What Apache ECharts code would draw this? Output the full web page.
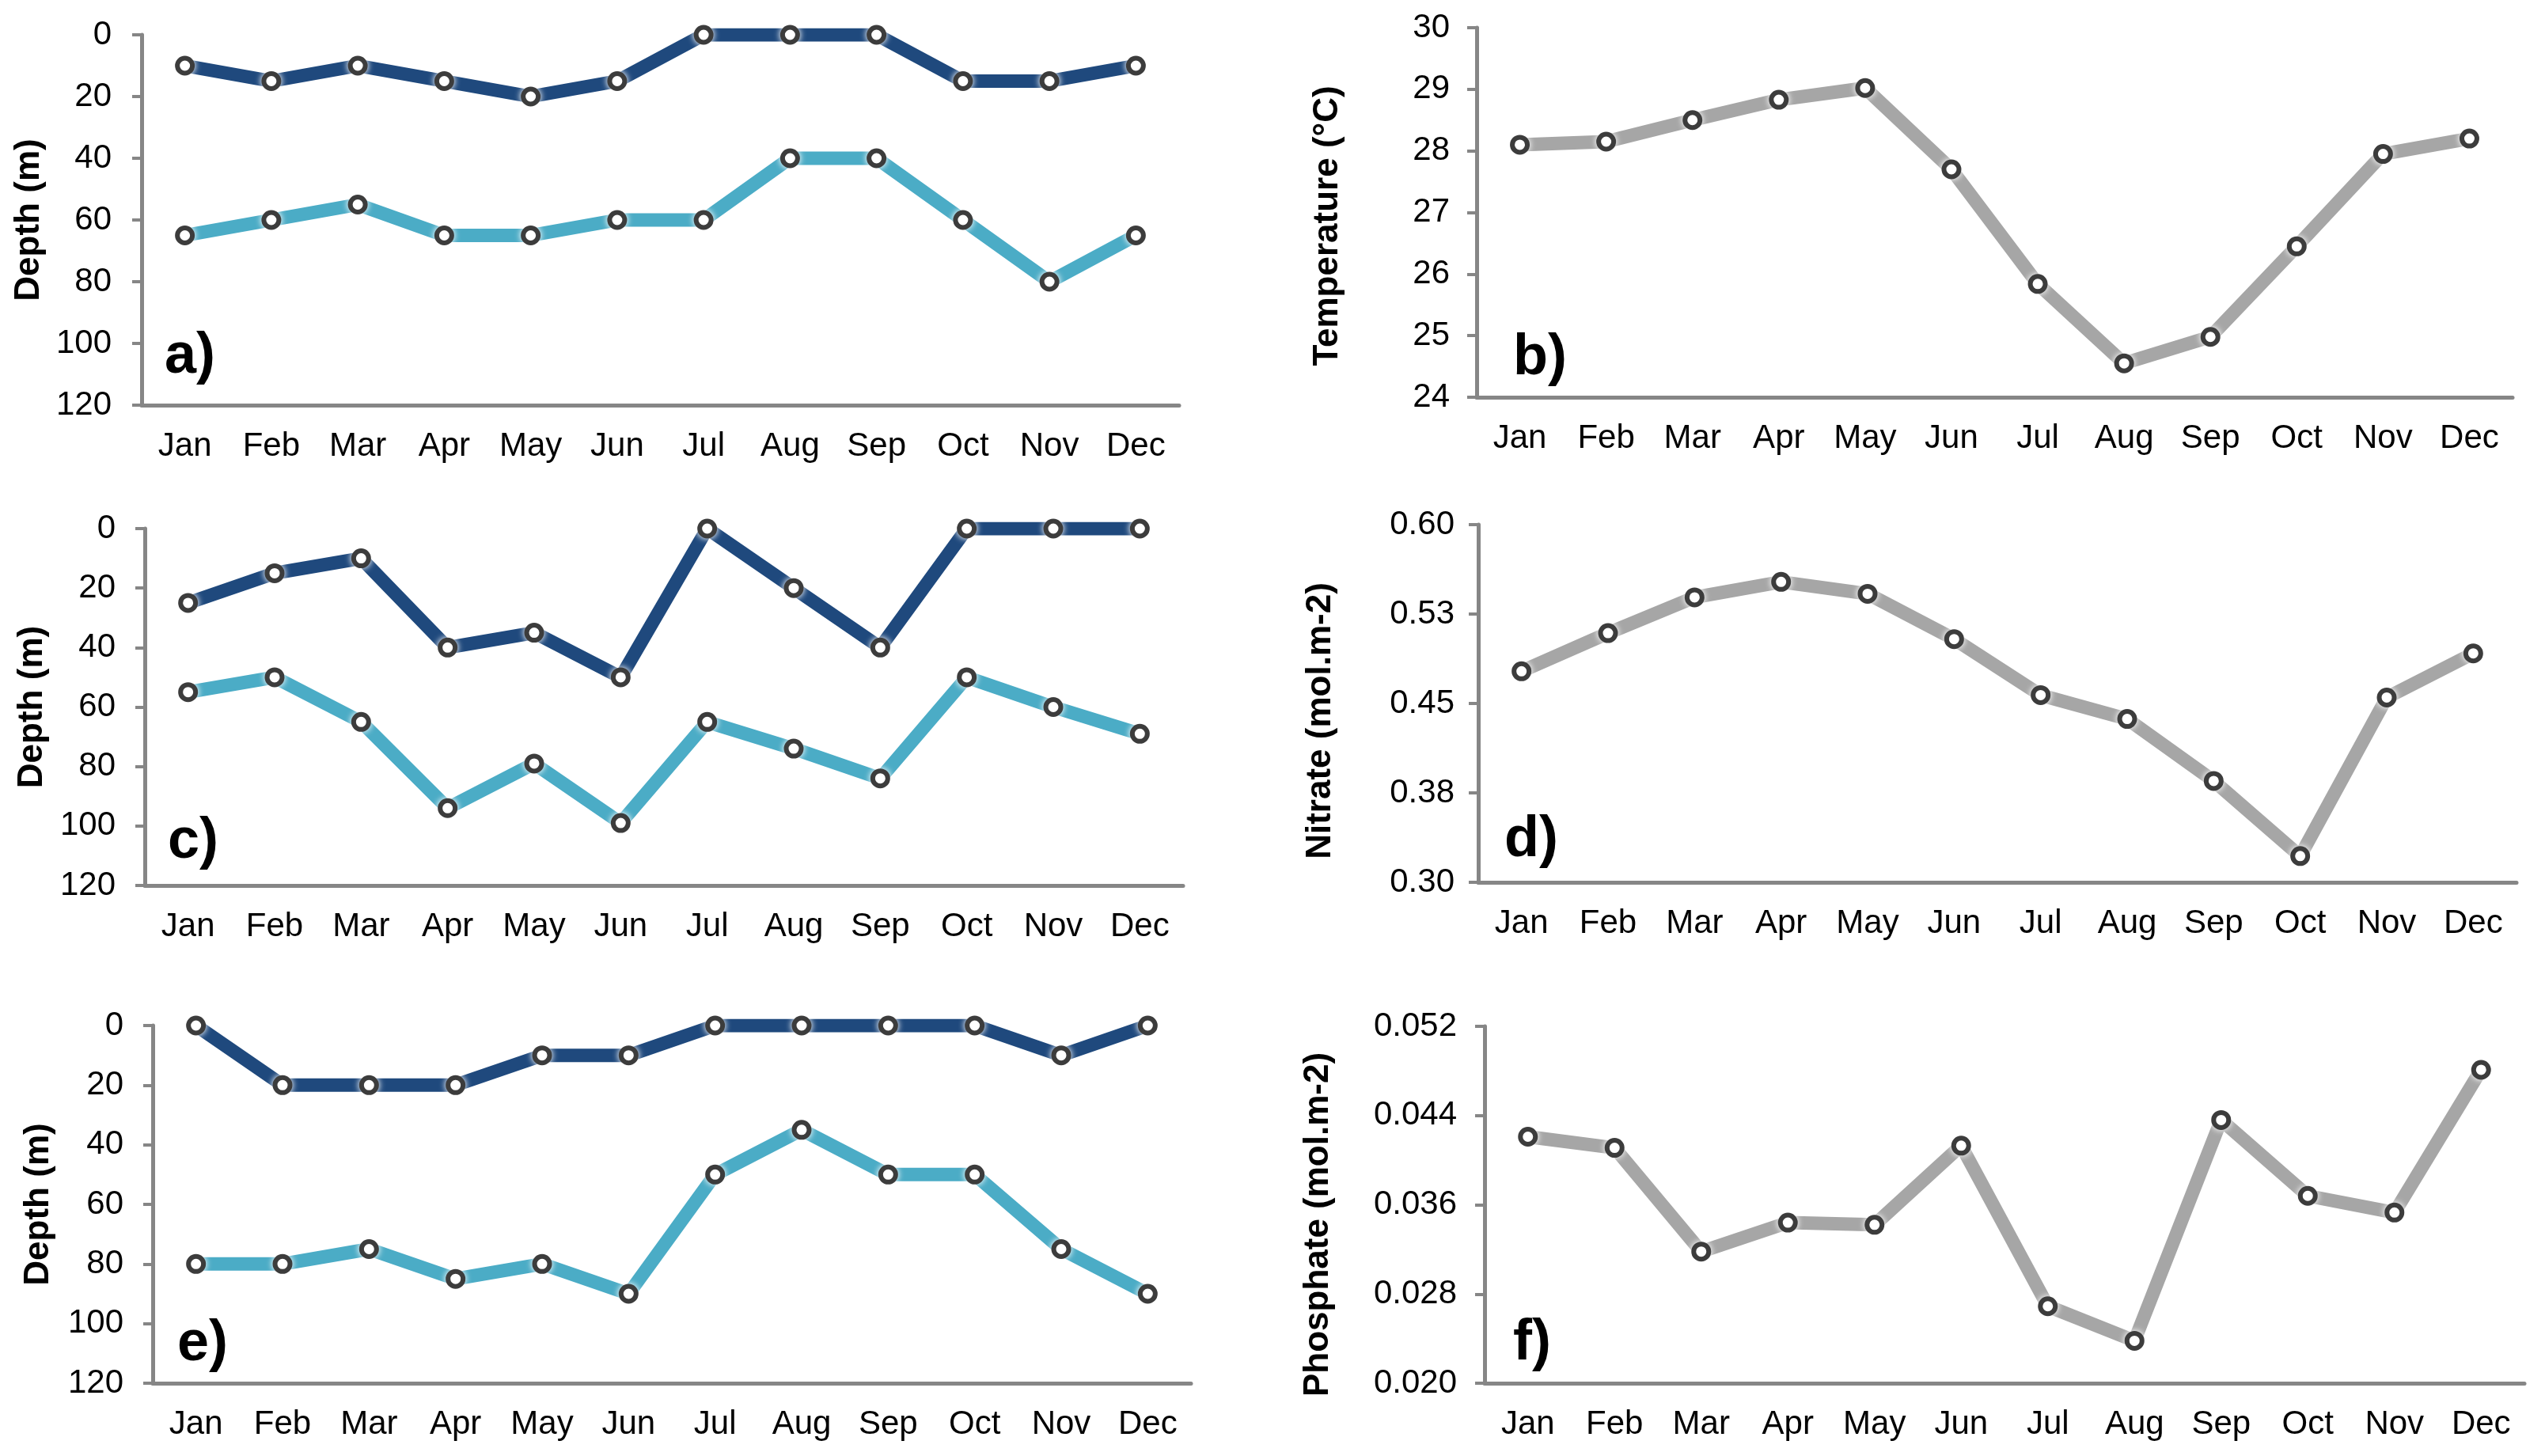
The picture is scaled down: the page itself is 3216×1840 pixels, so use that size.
<!DOCTYPE html>
<html>
<head>
<meta charset="utf-8">
<script src="https://cdn.jsdelivr.net/npm/echarts@6/dist/echarts.min.js"></script>
<style>
html,body{margin:0;padding:0;background:#fff;}
#chart{width:3216px;height:1840px;}
</style>
</head>
<body>
<div id="chart"></div>
<script>
// ---- data ----
const months = ['Jan','Feb','Mar','Apr','May','Jun','Jul','Aug','Sep','Oct','Nov','Dec'];

const upperDepthA = [10, 15, 10, 15, 20, 15, 0, 0, 0, 15, 15, 10];
const lowerDepthA = [65, 60, 55, 65, 65, 60, 60, 40, 40, 60, 80, 65];

const temperatureB = [28.1, 28.15, 28.5, 28.83, 29.02, 27.7, 25.84, 24.55, 24.98, 26.45, 27.95, 28.2];

const upperDepthC = [25, 15, 10, 40, 35, 50, 0, 20, 40, 0, 0, 0];
const lowerDepthC = [55, 50, 65, 94, 79, 99, 65, 74, 84, 50, 60, 69];

const nitrateD = [0.477, 0.509, 0.539, 0.552, 0.542, 0.504, 0.457, 0.437, 0.385, 0.322, 0.455, 0.492];

const upperDepthE = [0, 20, 20, 20, 10, 10, 0, 0, 0, 0, 10, 0];
const lowerDepthE = [80, 80, 75, 85, 80, 90, 50, 35, 50, 50, 75, 90];

const phosphateF = [0.0421, 0.0411, 0.0318, 0.0344, 0.0342, 0.0413, 0.0269, 0.0238, 0.0436, 0.0368, 0.0353, 0.0481];

const depthTicks = {min: 0, max: 120, interval: 20};
const tempTicks = {min: 24, max: 30, interval: 1};
const nitrateTicks = {min: 0.30, max: 0.60, interval: 0.075};
const phosphateTicks = {min: 0.020, max: 0.052, interval: 0.008};

// ---- styling ----
const FONT = "'Liberation Sans', Arial, Helvetica, sans-serif";
const AXIS_COLOR = '#868686';
const NAVY = '#1F497D';
const LIGHT = '#4BACC6';
const GRAY = '#A6A6A6';

const grids = [
  {left: 179, top: 44, width: 1311, height: 468},
  {left: 1866, top: 35, width: 1309, height: 467},
  {left: 183, top: 668, width: 1312, height: 451},
  {left: 1868, top: 663, width: 1312, height: 452},
  {left: 193, top: 1296, width: 1312, height: 452},
  {left: 1876, top: 1297, width: 1314, height: 451}
];

function xAx(i) {
  return {
    type: 'category', gridIndex: i, data: months, boundaryGap: true, position: 'bottom',
    axisLine: {onZero: false, lineStyle: {color: AXIS_COLOR, width: 5}},
    axisTick: {inside: true, length: 10, lineStyle: {color: AXIS_COLOR, width: 4}},
    axisLabel: {color: '#000', fontSize: 42, fontFamily: FONT, margin: 31},
    splitLine: {show: false}
  };
}
function yAx(i, ticks, opts) {
  return Object.assign({
    type: 'value', gridIndex: i,
    min: ticks.min, max: ticks.max, interval: ticks.interval,
    nameLocation: 'middle', nameRotate: 90,
    nameTextStyle: {color: '#000', fontSize: 44, fontWeight: 'bold', fontFamily: FONT},
    axisLine: {show: true, onZero: false, lineStyle: {color: AXIS_COLOR, width: 5}},
    axisTick: {show: true, inside: false, length: 12, lineStyle: {color: AXIS_COLOR, width: 4}},
    axisLabel: {color: '#000', fontSize: 42, fontFamily: FONT},
    splitLine: {show: false}
  }, opts);
}
function ser(i, data, color) {
  return {
    type: 'line', xAxisIndex: i, yAxisIndex: i, data: data,
    symbol: 'circle', symbolSize: 19, showAllSymbol: true,
    lineStyle: {color: color, width: 17},
    itemStyle: {color: '#fff', borderColor: '#3c3c3c', borderWidth: 6, shadowColor: '#fff', shadowBlur: 8},
    emphasis: {disabled: true},
    animation: false, z: 3
  };
}

const depthName = 'Depth (m)';
const option = {
  animation: false,
  backgroundColor: '#fff',
  grid: grids,
  xAxis: [0,1,2,3,4,5].map(xAx),
  yAxis: [
    yAx(0, depthTicks, {inverse: true, name: depthName, nameGap: 120, axisLabel: {color:'#000', fontSize: 42, fontFamily: FONT, margin: 38}}),
    yAx(1, tempTicks, {name: 'Temperature (°C)', nameGap: 166,
      nameTextStyle: {color:'#000', fontSize: 44, fontWeight:'bold', fontFamily: FONT, padding: [0, 34, 0, 0]},
      axisLabel: {color:'#000', fontSize: 42, fontFamily: FONT, margin: 34}}),
    yAx(2, depthTicks, {inverse: true, name: depthName, nameGap: 120, axisLabel: {color:'#000', fontSize: 42, fontFamily: FONT, margin: 37}}),
    yAx(3, nitrateTicks, {name: 'Nitrate (mol.m-2)', nameGap: 177,
      nameTextStyle: {color:'#000', fontSize: 44, fontWeight:'bold', fontFamily: FONT, padding: [0, 44, 0, 0]},
      axisLabel: {color:'#000', fontSize: 42, fontFamily: FONT, margin: 30, formatter: v => v.toFixed(2)}}),
    yAx(4, depthTicks, {inverse: true, name: depthName, nameGap: 122, axisLabel: {color:'#000', fontSize: 42, fontFamily: FONT, margin: 37}}),
    yAx(5, phosphateTicks, {name: 'Phosphate (mol.m-2)', nameGap: 188,
      nameTextStyle: {color:'#000', fontSize: 44, fontWeight:'bold', fontFamily: FONT, padding: [0, 50, 0, 0]},
      axisLabel: {color:'#000', fontSize: 42, fontFamily: FONT, margin: 35, formatter: v => v.toFixed(3)}})
  ],
  series: [
    ser(0, upperDepthA, NAVY), ser(0, lowerDepthA, LIGHT),
    ser(1, temperatureB, GRAY),
    ser(2, upperDepthC, NAVY), ser(2, lowerDepthC, LIGHT),
    ser(3, nitrateD, GRAY),
    ser(4, upperDepthE, NAVY), ser(4, lowerDepthE, LIGHT),
    ser(5, phosphateF, GRAY)
  ],
  graphic: [
    ['a)', 208, 451], ['b)', 1912, 453], ['c)', 212, 1064],
    ['d)', 1901, 1062], ['e)', 224, 1699], ['f)', 1912, 1698]
  ].map(([t, x, y]) => ({
    type: 'text', x: x, y: y, z: 10,
    style: {text: t, fill: '#000', fontSize: 72, fontWeight: 'bold', fontFamily: FONT,
            align: 'left', verticalAlign: 'middle'}
  }))
};

const chart = echarts.init(document.getElementById('chart'), null, {renderer: 'canvas'});
chart.setOption(option);
</script>
</body>
</html>
